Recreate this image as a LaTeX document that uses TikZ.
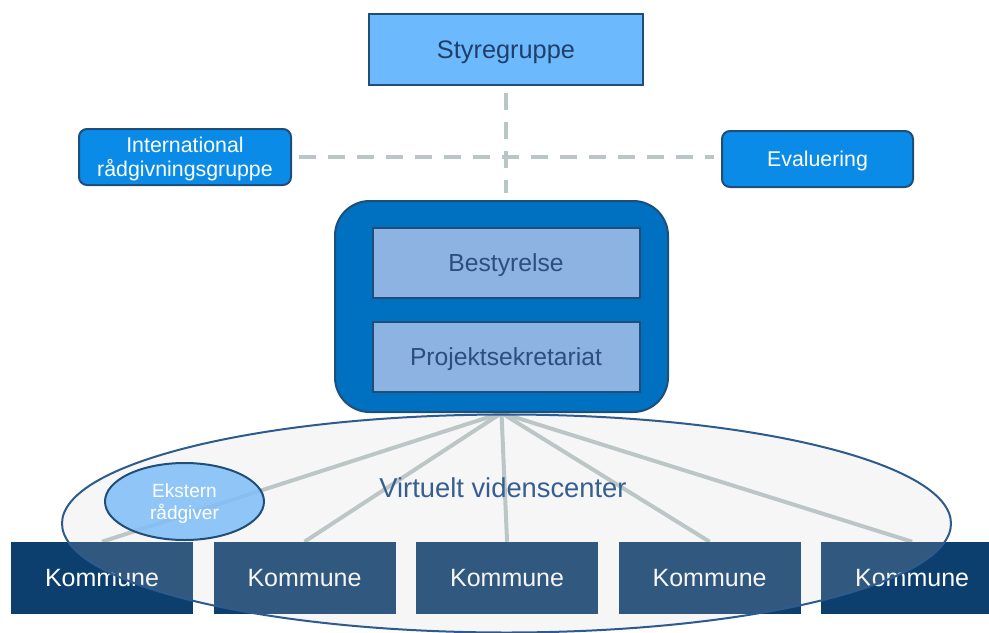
\documentclass[tikz,border=0pt]{standalone}
\usepackage{fontspec}
\setmainfont{Liberation Sans}
\usetikzlibrary{positioning,shapes.geometric,backgrounds}

\definecolor{navyline}{HTML}{1F4E79}
\definecolor{styrefill}{HTML}{6DB9FD}
\definecolor{styretext}{HTML}{203F68}
\definecolor{sidefill}{HTML}{0A8BE8}
\definecolor{centerfill}{HTML}{0070C0}
\definecolor{innerfill}{HTML}{8DB3E2}
\definecolor{innertext}{HTML}{2B4F7E}
\definecolor{komfill}{HTML}{0D3F6E}
\definecolor{linegray}{HTML}{BAC5C5}
\definecolor{vcedge}{HTML}{2E5B8E}
\definecolor{vcfill}{HTML}{CECECE}
\definecolor{vctext}{HTML}{365E91}
\definecolor{eksfill}{HTML}{7FBEF8}

\begin{document}
\begin{tikzpicture}[x=0.75pt, y=-0.75pt, node distance=15pt,
    every node/.style={inner sep=0pt, align=center, text depth=0pt},
    topbox/.style={draw=navyline, line width=1.5pt, fill=styrefill, text=styretext,
        minimum width=205.5pt, minimum height=53.25pt, font=\fontsize{19}{22}\selectfont},
    sidebox/.style={draw=navyline, line width=1.5pt, fill=sidefill, text=white,
        rounded corners=6pt, minimum height=42pt, font=\fontsize{16}{18}\selectfont},
    unitbox/.style={draw=navyline, line width=1.5pt, fill=innerfill, text=innertext,
        minimum width=200.25pt, minimum height=52.5pt, font=\fontsize{18.5}{22}\selectfont},
    kombox/.style={fill=komfill, text=white, minimum width=136.5pt, minimum height=54pt,
        font=\fontsize{18.75}{22}\selectfont},
    dashlink/.style={draw=linegray, line width=3pt, dash pattern=on 12.75pt off 9pt,
        shorten <=5pt, shorten >=5pt},
    spoke/.style={draw=linegray, line width=3pt},
  ]
\useasboundingbox (0,0) rectangle (989,632);

% top level
\node[topbox] (styre) at (506,49.5) {Styregruppe};
\node[sidebox, minimum width=159pt] (intl) at (185,157) {International\\rådgivningsgruppe};
\node[sidebox, minimum width=143.25pt] (eval) at (817.5,159) {Evaluering};

% ledelse
\node[draw=navyline, line width=1.5pt, fill=centerfill, rounded corners=26pt,
      minimum width=249.75pt, minimum height=158.25pt] (ledelse) at (501.5,306.5) {};
\node[unitbox] (best) at (506,263) {Bestyrelse};
\node[unitbox, below=16.5pt of best] (sekr) {Projektsekretariat};

% kommuner
\node[kombox] (kom1) at (102,578) {Kommune};
\node[kombox, right=of kom1] (kom2) {Kommune};
\node[kombox, right=of kom2] (kom3) {Kommune};
\node[kombox, right=of kom3] (kom4) {Kommune};
\node[kombox, right=of kom4] (kom5) {Kommune};

\begin{pgfonlayer}{background}
  \draw[dashlink] (styre.south) -- (styre.south |- ledelse.north);
  \draw[dashlink] (intl.east) -- (intl.east -| eval.west);
  \foreach \k in {1,...,5}
    \draw[spoke] (ledelse.south) -- (kom\k.north);
\end{pgfonlayer}

% videnscenter
\node[ellipse, draw=vcedge, line width=1.5pt, fill=vcfill, fill opacity=0.19,
      minimum width=666.75pt, minimum height=163.5pt] (vc) at (506.5,523.5) {};
\node[text=vctext, font=\fontsize{20.5}{24}\selectfont] (vctitle) at (503,488) {Virtuelt videnscenter};
\node[ellipse, draw=navyline, line width=1.5pt, fill=eksfill, fill opacity=0.85,
      text opacity=1, text=white, minimum width=119.25pt, minimum height=57.75pt,
      font=\fontsize{14.3}{16.5}\selectfont] (ekstern) at (184.5,501.5) {Ekstern\\rådgiver};
\end{tikzpicture}
\end{document}
